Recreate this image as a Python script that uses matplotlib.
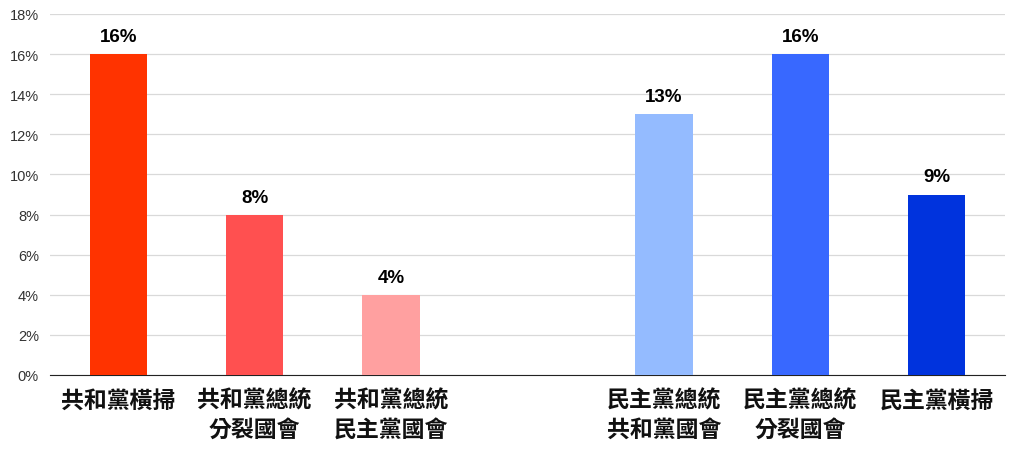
import matplotlib
matplotlib.use("Agg")
import matplotlib.pyplot as plt
from matplotlib.ticker import FuncFormatter

labels = ["共和黨橫掃", "共和黨總統\n分裂國會", "共和黨總統\n民主黨國會", "",
          "民主黨總統\n共和黨國會", "民主黨總統\n分裂國會", "民主黨橫掃"]
values = [16, 8, 4, None, 13, 16, 9]
colors = ["#FF3300", "#FF5050", "#FFA0A0", None, "#94BBFF", "#3868FF", "#0033DD"]

fig = plt.figure(figsize=(10.34, 4.64), dpi=100)
ax = fig.add_axes([50 / 1034, 1 - 376 / 464, 955 / 1034, 361 / 464])

for i, (v, c) in enumerate(zip(values, colors)):
    if v is None:
        continue
    ax.bar(i, v, width=0.42, color=c, zorder=3)
    ax.text(i, v + 0.45, f"{v}%", ha="center", va="bottom", fontsize=13.5,
            fontweight="bold", family=["Liberation Sans", "DejaVu Sans"])

ax.set_xlim(-0.5, 6.5)
ax.set_ylim(0, 18)
ax.set_yticks(range(0, 19, 2))
ax.yaxis.set_major_formatter(FuncFormatter(lambda y, _: f"{int(y)}%"))
ax.grid(axis="y", color="#D9D9D9", lw=0.9, zorder=0)
for s in ["top", "right", "left"]:
    ax.spines[s].set_visible(False)
ax.spines["bottom"].set_color("#222222")
ax.tick_params(axis="y", length=0, labelsize=10.5, pad=8, labelcolor="#333333")
ax.tick_params(axis="x", length=0, pad=10)
ax.set_xticks(range(7))
ax.set_xticklabels(labels, fontsize=16.5, family=["Noto Sans CJK TC", "DejaVu Sans"],
                   fontweight="bold", linespacing=1.3, color="#111111")
for t in ax.get_yticklabels():
    t.set_family(["Liberation Sans", "DejaVu Sans"])

fig.savefig("out.png", dpi=100)
